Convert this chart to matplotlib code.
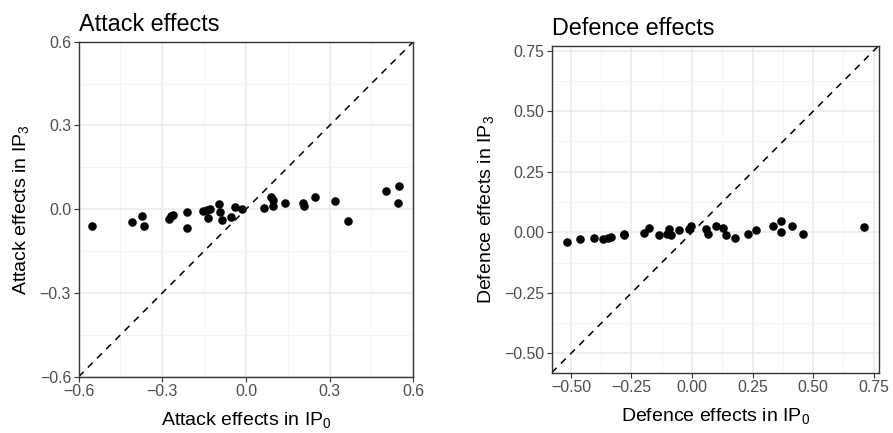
import numpy as np
import matplotlib
matplotlib.use("Agg")
from matplotlib import pyplot as plt
from matplotlib.ticker import MultipleLocator

plt.rcParams["font.family"] = ["Liberation Sans", "DejaVu Sans"]
plt.rcParams["mathtext.fontset"] = "custom"
plt.rcParams["mathtext.rm"] = "Liberation Sans"
plt.rcParams["mathtext.it"] = "Liberation Sans:italic"

# attack effects: IP0 vs IP3
attack_ip0 = [-0.551, -0.410, -0.372, -0.365, -0.277, -0.270, -0.263, -0.213,
              -0.213, -0.155, -0.141, -0.128, -0.137, -0.097, -0.092, -0.086,
              -0.055, -0.038, -0.013, 0.063, 0.091, 0.096, 0.096, 0.139,
              0.206, 0.209, 0.246, 0.319, 0.367, 0.501, 0.550, 0.544]
attack_ip3 = [-0.061, -0.045, -0.026, -0.059, -0.034, -0.026, -0.021, -0.009,
              -0.069, -0.006, -0.003, 0.001, -0.033, 0.017, -0.011, -0.038,
              -0.028, 0.008, 0.002, 0.005, 0.043, 0.032, 0.011, 0.021,
              0.023, 0.011, 0.043, 0.028, -0.042, 0.065, 0.082, 0.021]

# defence effects: IP0 vs IP3
defence_ip0 = [-0.518, -0.461, -0.405, -0.368, -0.349, -0.336, -0.280, -0.280,
               -0.198, -0.176, -0.137, -0.105, -0.097, -0.087, -0.055, -0.012,
               -0.003, 0.057, 0.066, 0.097, 0.129, 0.139, 0.179, 0.229,
               0.264, 0.334, 0.367, 0.367, 0.414, 0.459, 0.709]
defence_ip3 = [-0.040, -0.029, -0.022, -0.026, -0.023, -0.019, -0.006, -0.012,
               -0.001, 0.017, -0.011, -0.006, 0.015, -0.010, 0.011, 0.012,
               0.025, 0.012, -0.006, 0.025, 0.017, -0.010, -0.023, -0.006,
               0.011, 0.025, 0.045, 0.001, 0.028, -0.006, 0.022]

attack_ticks = [-0.6, -0.3, 0.0, 0.3, 0.6]
defence_ticks = [-0.50, -0.25, 0.00, 0.25, 0.50, 0.75]


def style_panel(ax, ticks, fmt, lim, minor):
    ax.set_xlim(lim)
    ax.set_ylim(lim)
    ax.set_xticks(ticks)
    ax.set_yticks(ticks)
    ax.set_xticklabels([fmt.format(t).replace("-", "\u2212") for t in ticks])
    ax.set_yticklabels([fmt.format(t).replace("-", "\u2212") for t in ticks])
    ax.xaxis.set_minor_locator(MultipleLocator(minor))
    ax.yaxis.set_minor_locator(MultipleLocator(minor))
    ax.grid(which="major", color="#EBEBEB", linewidth=1.1)
    ax.grid(which="minor", color="#F2F2F2", linewidth=0.6)
    ax.set_axisbelow(True)
    ax.tick_params(which="major", length=3.5, width=0.8, color="#333333",
                   labelsize=11.4, labelcolor="#4D4D4D", pad=2)
    ax.tick_params(which="minor", length=0)
    for sp in ax.spines.values():
        sp.set_color("#333333")
        sp.set_linewidth(1.0)


fig = plt.figure(figsize=(8.93, 4.33), dpi=100)
ax1 = fig.add_axes([0.0881, 0.130, 0.3747, 0.7737])
ax2 = fig.add_axes([0.6178, 0.1393, 0.3662, 0.7552])

# left panel
ax1.scatter(attack_ip0, attack_ip3, s=38, color="black", zorder=3, linewidths=0)
ax1.axline((0, 0), slope=1, color="black", linestyle=(0, (4.5, 4)), linewidth=1.1)
style_panel(ax1, attack_ticks, "{:.1f}", (-0.6, 0.6), 0.15)
ax1.set_title("Attack effects", loc="left", fontsize=16.8, pad=8)
ax1.set_xlabel("Attack effects in IP$_0$", fontsize=14, labelpad=8)
ax1.set_ylabel("Attack effects in IP$_3$", fontsize=14, labelpad=6)

# right panel: limits from data range with 5% expansion
allv = np.concatenate([defence_ip0, defence_ip3])
lo, hi = allv.min(), allv.max()
pad = 0.05 * (hi - lo)
ax2.scatter(defence_ip0, defence_ip3, s=38, color="black", zorder=3, linewidths=0)
ax2.axline((0, 0), slope=1, color="black", linestyle=(0, (4.5, 4)), linewidth=1.1)
style_panel(ax2, defence_ticks, "{:.2f}", (lo - pad, hi + pad), 0.125)
ax2.set_title("Defence effects", loc="left", fontsize=16.8, pad=8)
ax2.set_xlabel("Defence effects in IP$_0$", fontsize=14, labelpad=8)
ax2.set_ylabel("Defence effects in IP$_3$", fontsize=14, labelpad=6)

fig.savefig("out.png", dpi=100)
